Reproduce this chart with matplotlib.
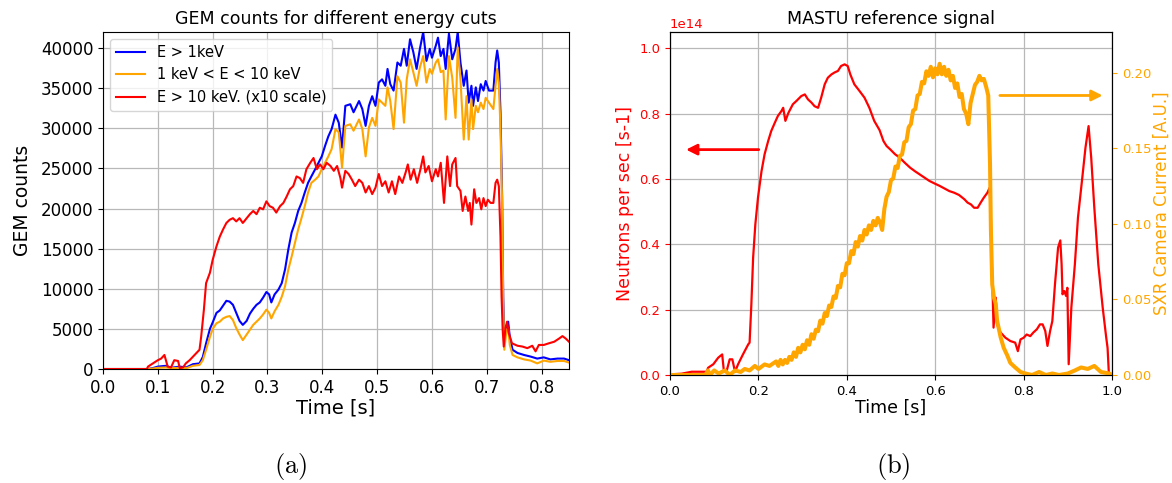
import numpy as np
import matplotlib
matplotlib.use("Agg")
import matplotlib.pyplot as plt

# --- (a) GEM counts ---
t_gem = [0, 0.08, 0.09, 0.1, 0.115, 0.124, 0.14, 0.152, 0.164, 0.176,
         0.182, 0.188, 0.195, 0.2, 0.207, 0.213, 0.219, 0.225, 0.231, 0.237,
         0.243, 0.249, 0.255, 0.262, 0.268, 0.274, 0.28, 0.286, 0.292, 0.298,
         0.303, 0.307, 0.313, 0.32, 0.326, 0.332, 0.338, 0.344, 0.35, 0.356,
         0.362, 0.368, 0.374, 0.38, 0.387, 0.393, 0.399, 0.405, 0.411, 0.417,
         0.424, 0.43, 0.436, 0.442, 0.451, 0.457, 0.467, 0.473, 0.479, 0.485,
         0.491, 0.497, 0.503, 0.509, 0.515, 0.519, 0.524, 0.53, 0.537, 0.543,
         0.549, 0.554, 0.56, 0.566, 0.572, 0.578, 0.584, 0.59, 0.596, 0.6,
         0.607, 0.611, 0.616, 0.621, 0.625, 0.631, 0.637, 0.643, 0.647, 0.652,
         0.658, 0.663, 0.667, 0.672, 0.675, 0.68, 0.684, 0.689, 0.694, 0.698,
         0.704, 0.712, 0.716, 0.719, 0.722, 0.725, 0.728, 0.73, 0.732, 0.736,
         0.739, 0.742, 0.747, 0.756, 0.768, 0.78, 0.792, 0.804, 0.816, 0.829,
         0.841, 0.85]

gem_above_1kev = [0, 0, 100, 300, 400, 150, 300, 200, 600, 700,
                  1500, 3200, 5000, 5800, 7000, 7300, 7900, 8500, 8400, 8000,
                  7000, 6000, 5500, 6000, 6900, 7500, 8000, 8300, 8900, 9600,
                  9300, 8300, 9300, 9900, 10700, 12400, 14900, 17000, 18200, 19700,
                  20700, 22000, 23200, 24000, 24900, 25700, 26500, 27800, 29000, 29900,
                  31700, 30700, 27600, 32800, 33000, 32000, 33400, 32400, 30300, 32800,
                  34000, 32800, 35700, 36100, 35300, 37400, 35500, 34700, 38200, 37800,
                  39900, 37800, 41100, 39500, 37400, 39900, 42000, 38400, 39900, 38800,
                  40300, 41300, 39000, 39900, 37400, 41800, 38600, 39900, 42000, 38200,
                  35300, 37200, 33200, 35300, 32800, 35100, 33400, 35500, 34700, 35900,
                  34700, 34700, 38200, 39700, 38200, 32000, 21500, 9000, 3600, 5300,
                  5900, 4000, 2400, 2000, 1750, 1550, 1300, 1450, 1200, 1300,
                  1300, 1100]

gem_1_to_10kev = [0, 0, 50, 150, 200, 100, 150, 100, 400, 500,
                  1100, 2400, 4000, 5000, 5700, 5900, 6300, 6500, 6600, 6100,
                  5100, 4300, 3600, 4300, 4900, 5500, 5900, 6300, 6800, 7400,
                  7000, 6300, 7200, 8000, 9000, 10300, 12400, 14000, 15700, 17400,
                  18800, 20300, 22000, 23200, 23600, 24000, 24900, 25700, 26500, 27400,
                  29900, 29500, 25100, 30300, 30500, 29700, 31100, 29900, 26500, 30100,
                  31300, 30300, 33600, 33200, 32800, 35100, 33400, 29900, 36500, 35700,
                  30700, 36100, 38600, 37000, 35300, 37600, 39000, 35700, 37400, 36800,
                  38200, 38600, 37000, 37200, 31100, 39000, 36300, 31300, 40100, 36100,
                  28600, 34000, 28600, 33600, 29900, 32800, 32000, 33200, 32400, 33800,
                  33200, 32400, 35300, 37400, 35700, 29900, 20700, 8200, 2400, 4900,
                  5100, 3000, 1750, 1450, 1200, 1050, 700, 1050, 900, 1000,
                  1000, 800]

t_gem_hi = [0, 0.08, 0.082, 0.091, 0.1, 0.106, 0.112, 0.118, 0.124, 0.13,
            0.137, 0.14, 0.146, 0.151, 0.158, 0.167, 0.176, 0.179, 0.184, 0.188,
            0.195, 0.2, 0.207, 0.213, 0.219, 0.225, 0.231, 0.237, 0.243, 0.249,
            0.255, 0.262, 0.268, 0.274, 0.28, 0.286, 0.292, 0.298, 0.304, 0.31,
            0.316, 0.323, 0.329, 0.335, 0.341, 0.347, 0.353, 0.359, 0.365, 0.371,
            0.378, 0.384, 0.39, 0.396, 0.402, 0.408, 0.415, 0.421, 0.427, 0.433,
            0.436, 0.442, 0.448, 0.454, 0.46, 0.467, 0.473, 0.479, 0.485, 0.491,
            0.497, 0.503, 0.509, 0.515, 0.521, 0.527, 0.533, 0.54, 0.546, 0.552,
            0.556, 0.561, 0.567, 0.573, 0.579, 0.584, 0.588, 0.594, 0.6, 0.607,
            0.611, 0.616, 0.622, 0.628, 0.633, 0.637, 0.643, 0.646, 0.652, 0.656,
            0.661, 0.666, 0.669, 0.672, 0.677, 0.681, 0.686, 0.69, 0.694, 0.698,
            0.702, 0.707, 0.712, 0.716, 0.719, 0.722, 0.725, 0.727, 0.729, 0.731,
            0.734, 0.737, 0.74, 0.746, 0.756, 0.765, 0.774, 0.783, 0.789, 0.795,
            0.804, 0.813, 0.823, 0.832, 0.838, 0.844, 0.85]

# E > 10 keV, already multiplied by 10
gem_above_10kev = [0, 0, 300, 700, 1100, 1300, 1750, 300, 200, 1100,
                   1000, 100, 200, 700, 1100, 1750, 2400, 4000, 7400, 10700,
                   12000, 13600, 15300, 16500, 17400, 18200, 18600, 18800, 18400, 18800,
                   18200, 18800, 19300, 19700, 19300, 20100, 19900, 20900, 20300, 20100,
                   19500, 20300, 20700, 21500, 22400, 22800, 24000, 23800, 23200, 24900,
                   25700, 26300, 24900, 25500, 24900, 25700, 25300, 24700, 25300, 23800,
                   22600, 24700, 24300, 23600, 22800, 23600, 23200, 22000, 22800, 21800,
                   22600, 24300, 22800, 23400, 22000, 23400, 21800, 24000, 23200, 24500,
                   25500, 23600, 24900, 23200, 24900, 26500, 24500, 25300, 23400, 24900,
                   24000, 25700, 20700, 26500, 22800, 25500, 26300, 22800, 22200, 19700,
                   21500, 19700, 20700, 18000, 22400, 20700, 21300, 19900, 21300, 20300,
                   21100, 20700, 20700, 23200, 23600, 22800, 16500, 9000, 4900, 2800,
                   5100, 5900, 4500, 3200, 2900, 2800, 2600, 2900, 2200, 3000,
                   3000, 3200, 3400, 3800, 4100, 3800, 3400]

# --- (b) MASTU reference ---
t_neutron = [0, 0.026, 0.049, 0.064, 0.083, 0.086, 0.098, 0.109, 0.118, 0.122,
             0.128, 0.135, 0.141, 0.147, 0.154, 0.165, 0.177, 0.18, 0.184, 0.188,
             0.193, 0.199, 0.207, 0.214, 0.222, 0.229, 0.237, 0.244, 0.252, 0.256,
             0.261, 0.268, 0.278, 0.286, 0.297, 0.305, 0.312, 0.32, 0.327, 0.335,
             0.342, 0.35, 0.357, 0.365, 0.372, 0.38, 0.387, 0.395, 0.402, 0.408,
             0.417, 0.429, 0.44, 0.451, 0.462, 0.474, 0.483, 0.49, 0.498, 0.509,
             0.52, 0.531, 0.543, 0.554, 0.565, 0.576, 0.587, 0.599, 0.61, 0.621,
             0.632, 0.643, 0.654, 0.666, 0.673, 0.681, 0.688, 0.696, 0.703, 0.71,
             0.718, 0.723, 0.726, 0.729, 0.732, 0.737, 0.74, 0.748, 0.759, 0.77,
             0.781, 0.787, 0.793, 0.8, 0.807, 0.815, 0.822, 0.83, 0.837, 0.843,
             0.849, 0.854, 0.86, 0.865, 0.871, 0.878, 0.883, 0.886, 0.888, 0.892,
             0.896, 0.899, 0.902, 0.908, 0.916, 0.923, 0.932, 0.94, 0.947, 0.953,
             0.96, 0.969, 0.979, 0.987, 0.99, 0.993]

# neutron rate in units of 1e14 s-1
neutron_rate = [0.002, 0.004, 0.01, 0.01, 0.01, 0.022, 0.033, 0.053, 0.063, 0.01,
                0.012, 0.048, 0.048, 0.01, 0.033, 0.063, 0.094, 0.099, 0.216, 0.359,
                0.461, 0.543, 0.624, 0.676, 0.716, 0.747, 0.772, 0.793, 0.808, 0.818,
                0.778, 0.803, 0.829, 0.839, 0.854, 0.859, 0.844, 0.834, 0.823, 0.818,
                0.849, 0.89, 0.91, 0.92, 0.926, 0.931, 0.946, 0.951, 0.946, 0.92,
                0.89, 0.869, 0.849, 0.818, 0.778, 0.75, 0.716, 0.701, 0.691, 0.676,
                0.665, 0.65, 0.635, 0.624, 0.614, 0.604, 0.594, 0.586, 0.579, 0.571,
                0.563, 0.558, 0.551, 0.538, 0.528, 0.522, 0.512, 0.512, 0.528, 0.543,
                0.558, 0.573, 0.48, 0.298, 0.145, 0.237, 0.155, 0.13, 0.114, 0.104,
                0.099, 0.073, 0.109, 0.114, 0.124, 0.119, 0.13, 0.14, 0.155, 0.155,
                0.135, 0.089, 0.135, 0.165, 0.278, 0.39, 0.412, 0.339, 0.247, 0.257,
                0.242, 0.267, 0.033, 0.206, 0.339, 0.482, 0.594, 0.696, 0.762, 0.665,
                0.512, 0.339, 0.206, 0.114, 0.083, 0.002]

t_sxr = [0, 0.08, 0.086, 0.09, 0.1, 0.11, 0.124, 0.135, 0.147, 0.16,
         0.169, 0.18, 0.192, 0.2, 0.214, 0.225, 0.235,
         0.24, 0.245, 0.25, 0.255, 0.26, 0.265, 0.27, 0.275, 0.28, 0.285,
         0.29, 0.295, 0.3, 0.305, 0.31, 0.315, 0.32, 0.325, 0.33, 0.335,
         0.34, 0.345, 0.35, 0.355, 0.36, 0.365, 0.37, 0.375, 0.38, 0.385,
         0.39, 0.395, 0.4, 0.405, 0.41, 0.415, 0.42, 0.425, 0.43, 0.435,
         0.44, 0.445, 0.45, 0.455, 0.46, 0.465, 0.47, 0.475, 0.48, 0.485,
         0.49, 0.495, 0.5, 0.505, 0.51, 0.515, 0.52, 0.525, 0.53, 0.535,
         0.54, 0.545, 0.55, 0.555, 0.56, 0.565, 0.57, 0.575, 0.58, 0.585,
         0.59, 0.595, 0.6, 0.605, 0.61, 0.615, 0.62, 0.625, 0.63, 0.635,
         0.64, 0.645, 0.65, 0.655, 0.66, 0.665, 0.67, 0.675, 0.68, 0.685,
         0.69, 0.695, 0.7, 0.705, 0.71, 0.715, 0.72,
         0.724, 0.726, 0.729, 0.733, 0.737, 0.74, 0.748, 0.755, 0.763, 0.77,
         0.781, 0.793, 0.804, 0.819, 0.835, 0.85, 0.865, 0.88, 0.9, 0.916,
         0.93, 0.945, 0.96, 0.975, 0.994, 1.0]

sxr_current = [0, 0, 0.003, 0.0, 0.003, 0.001, 0.003, 0.0, 0.003, 0.002,
               0.004, 0.003, 0.006, 0.004, 0.007, 0.006, 0.008,
               0.009, 0.006, 0.010, 0.007, 0.010, 0.008, 0.012, 0.010, 0.015, 0.012,
               0.018, 0.015, 0.020, 0.017, 0.023, 0.020, 0.027, 0.024, 0.030, 0.029,
               0.036, 0.034, 0.041, 0.039, 0.046, 0.045, 0.052, 0.051, 0.059, 0.058,
               0.067, 0.066, 0.074, 0.074, 0.082, 0.080, 0.088, 0.085, 0.092, 0.089,
               0.096, 0.093, 0.099, 0.096, 0.102, 0.099, 0.104, 0.101, 0.096, 0.110,
               0.118, 0.121, 0.129, 0.130, 0.138, 0.137, 0.145, 0.146, 0.154, 0.155,
               0.164, 0.166, 0.175, 0.176, 0.185, 0.186, 0.194, 0.193, 0.201, 0.198,
               0.204, 0.197, 0.203, 0.199, 0.206, 0.199, 0.204, 0.198, 0.202, 0.195,
               0.198, 0.190, 0.193, 0.184, 0.186, 0.176, 0.173, 0.166, 0.180, 0.186,
               0.192, 0.194, 0.198, 0.195, 0.196, 0.191, 0.185,
               0.14, 0.096, 0.06, 0.051, 0.047, 0.036, 0.025, 0.018, 0.013, 0.008,
               0.005, 0.002, 0.001, 0.0, 0.002, 0.0, 0.001, 0.0, 0.001, 0.003,
               0.005, 0.004, 0.006, 0.002, 0.001, 0.0]

plt.rcParams["mathtext.fontset"] = "cm"

fig = plt.figure(figsize=(11.72, 4.83), dpi=100)

# left panel
ax1 = fig.add_axes([0.0879, 0.2360, 0.3976, 0.6977])
ax1.plot(t_gem, gem_above_1kev, color="blue", lw=1.5, label="E > 1keV")
ax1.plot(t_gem, gem_1_to_10kev, color="orange", lw=1.5, label="1 keV < E < 10 keV")
ax1.plot(t_gem_hi, gem_above_10kev, color="red", lw=1.5, label="E > 10 keV. (x10 scale)")
ax1.set_xlim(0, 0.85)
ax1.set_ylim(0, 42000)
ax1.set_xticks(np.arange(0, 0.81, 0.1))
ax1.set_yticks(np.arange(0, 40001, 5000))
ax1.tick_params(labelsize=12)
ax1.grid(True, color="#b8b8b8", lw=0.9)
ax1.set_title("GEM counts for different energy cuts", fontsize=12.5)
ax1.set_xlabel("Time [s]", fontsize=14, labelpad=1)
ax1.set_ylabel("GEM counts", fontsize=13.5, labelpad=6)
ax1.legend(loc="upper left", fontsize=10.5)

# right panel
ax2 = fig.add_axes([0.5717, 0.2236, 0.3771, 0.7101])
ax2.plot(t_neutron, np.array(neutron_rate) * 1e14, color="red", lw=1.6)
ax2.set_xlim(0, 1.0)
ax2.set_ylim(0, 1.05e14)
ax2.set_xticks(np.arange(0, 1.01, 0.2))
ax2.tick_params(labelsize=9.5)
ax2.tick_params(axis="y", colors="red")
ax2.yaxis.get_offset_text().set_color("red")
ax2.yaxis.get_offset_text().set_fontsize(9.5)
ax2.grid(True, color="#b8b8b8", lw=0.9)
ax2.set_title("MASTU reference signal", fontsize=12.5)
ax2.set_xlabel("Time [s]", fontsize=12.5, labelpad=1)
ax2.set_ylabel("Neutrons per sec [s-1]", fontsize=12.5, color="red")
ax2.annotate("", xy=(0.03, 0.69e14), xytext=(0.207, 0.69e14),
             arrowprops=dict(arrowstyle="-|>", color="red", lw=2, mutation_scale=16))

ax3 = ax2.twinx()
ax3.plot(t_sxr, sxr_current, color="orange", lw=2.9)
ax3.set_ylim(0, 0.227)
ax3.set_yticks([0.0, 0.05, 0.10, 0.15, 0.20])
ax3.tick_params(labelsize=9.5, colors="orange")
ax3.set_ylabel("SXR Camera Current [A.U.]", fontsize=12, color="orange", labelpad=1)
ax3.annotate("", xy=(0.985, 0.185), xytext=(0.74, 0.185),
             arrowprops=dict(arrowstyle="-|>", color="orange", lw=2, mutation_scale=16))

# sub-figure captions
fig.text(0.2483, 0.035, r"$\mathrm{(a)}$", fontsize=19, ha="center", va="center")
fig.text(0.7620, 0.035, r"$\mathrm{(b)}$", fontsize=19, ha="center", va="center")

plt.savefig("out.png", dpi=100)
plt.close()
